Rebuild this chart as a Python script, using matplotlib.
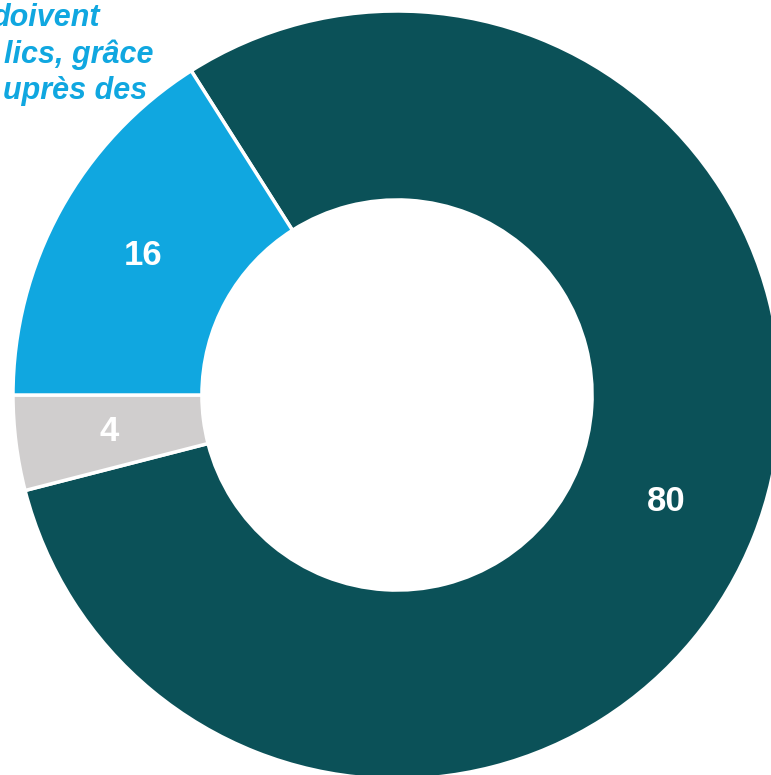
import matplotlib
matplotlib.use("Agg")
import matplotlib.pyplot as plt

values = [80, 4, 16]
labels = ["80", "4", "16"]
colors = ["#0B5158", "#D0CECE", "#10A7E0"]
title_lines = ["doivent", "lics, grâce", "uprès des"]

W, H = 771, 775
fig = plt.figure(figsize=(W / 100, H / 100), dpi=100)
ax = fig.add_axes([0, 0, 1, 1])

cx, cy, R = 397, 395, 384
wedges, texts, autotexts = ax.pie(
    values, colors=colors, startangle=122.4, counterclock=False,
    radius=1.0, wedgeprops=dict(width=0.492, edgecolor="white", linewidth=2.5),
    autopct=lambda p: "", pctdistance=0.755,
)
for t, lab in zip(autotexts, labels):
    t.set_text(lab)
    t.set_color("white")
    t.set_fontsize(25)
    t.set_fontweight("bold")
    t.set_fontfamily("Liberation Sans")

ax.set_xlim(-cx / R, (W - cx) / R)
ax.set_ylim(-(H - cy) / R, cy / R)
ax.set_aspect("equal")
ax.axis("off")

ends = [(100, 26), (153, 63), (147, 99)]
for line, (xe, yb) in zip(title_lines, ends):
    fig.text(xe / W, 1 - yb / H, line, ha="right", va="baseline",
             fontsize=22, fontweight="bold", fontstyle="italic",
             color="#10A7E0", family="Liberation Sans")

fig.savefig("out.png", dpi=100)
